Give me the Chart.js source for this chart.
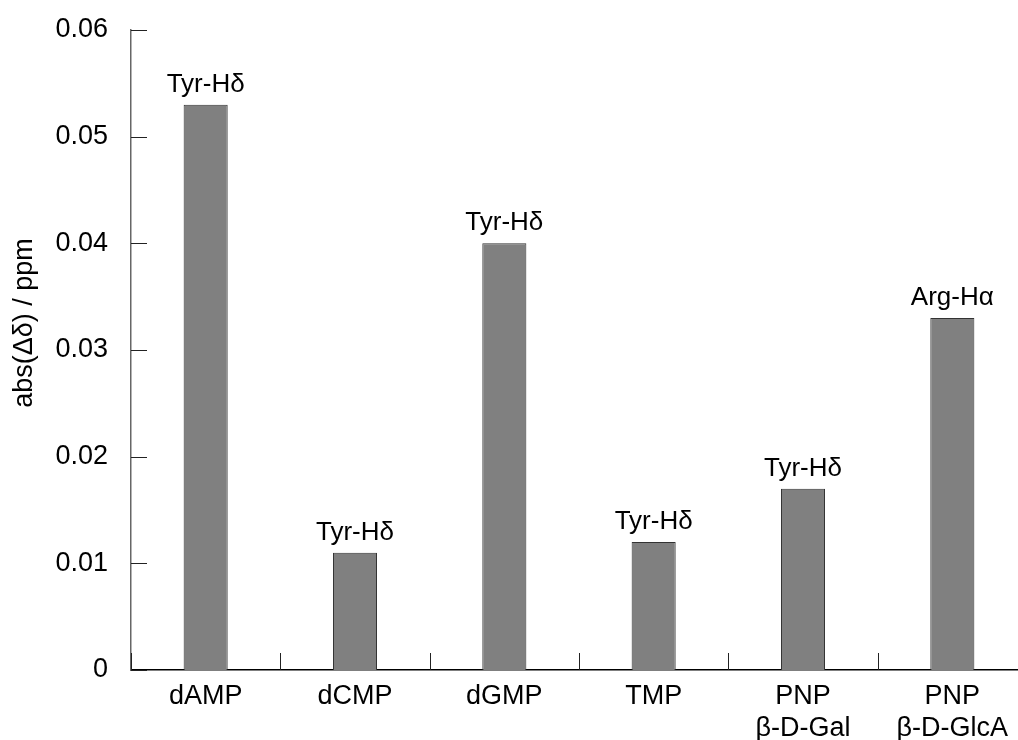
<!DOCTYPE html>
<html>
<head>
<meta charset="utf-8">
<script src="https://cdn.jsdelivr.net/npm/chart.js@4"></script>
<style>
  html, body { margin: 0; padding: 0; background: #fff; overflow: hidden; }
  #wrap { width: 1040px; height: 740px; }
</style>
</head>
<body>
<div id="wrap"><canvas id="chart" width="1040" height="740"></canvas></div>
<script>
const categories = ["dAMP", "dCMP", "dGMP", "TMP", ["PNP", "β-D-Gal"], ["PNP", "β-D-GlcA"]];
const shifts = [0.053, 0.011, 0.040, 0.012, 0.017, 0.033];
const peakLabels = ["Tyr-Hδ", "Tyr-Hδ", "Tyr-Hδ", "Tyr-Hδ", "Tyr-Hδ", "Arg-Hα"];
const yTicks = [0, 0.01, 0.02, 0.03, 0.04, 0.05, 0.06];
const yTitle = "abs(Δδ) / ppm";

const FONT = '"Liberation Sans", Arial, sans-serif';

// ticks point into the plot, like the original
const innerTicks = {
  id: "innerTicks",
  afterDraw(chart) {
    const { ctx, chartArea, scales } = chart;
    ctx.save();
    ctx.strokeStyle = "#222";
    ctx.lineWidth = 1;
    yTicks.forEach((v) => {
      const y = Math.round(scales.y.getPixelForValue(v)) + 0.5;
      ctx.beginPath();
      ctx.moveTo(chartArea.left, y);
      ctx.lineTo(chartArea.left + 16, y);
      ctx.stroke();
    });
    const w = (chartArea.right - chartArea.left) / categories.length;
    for (let i = 0; i <= categories.length; i++) {
      const x = Math.round(chartArea.left + i * w) + 0.5;
      ctx.beginPath();
      ctx.moveTo(x, chartArea.bottom);
      ctx.lineTo(x, chartArea.bottom - 17);
      ctx.stroke();
    }
    ctx.restore();
  }
};

const barLabels = {
  id: "barLabels",
  afterDatasetsDraw(chart) {
    const { ctx } = chart;
    ctx.save();
    ctx.font = "26px " + FONT;
    ctx.fillStyle = "#000";
    ctx.textAlign = "center";
    ctx.textBaseline = "alphabetic";
    chart.getDatasetMeta(0).data.forEach((bar, i) => {
      ctx.fillText(peakLabels[i], bar.x, bar.y - 13);
    });
    ctx.restore();
  }
};

const axisTitle = {
  id: "axisTitle",
  afterDraw(chart) {
    const { ctx, chartArea } = chart;
    ctx.save();
    ctx.translate(25, (chartArea.top + chartArea.bottom) / 2 - 27);
    ctx.rotate(-Math.PI / 2);
    ctx.font = "27px " + FONT;
    ctx.fillStyle = "#000";
    ctx.textAlign = "center";
    ctx.textBaseline = "middle";
    ctx.fillText(yTitle, 0, 0);
    ctx.restore();
  }
};

new Chart(document.getElementById("chart"), {
  type: "bar",
  data: {
    labels: categories,
    datasets: [{
      data: shifts,
      backgroundColor: "#808080",
      borderColor: "#333",
      borderWidth: 1,
      borderSkipped: "bottom",
      categoryPercentage: 1,
      barPercentage: 0.295
    }]
  },
  options: {
    responsive: false,
    animation: false,
    devicePixelRatio: 1,
    layout: { padding: { top: 30, right: 13, left: 0, bottom: 0 } },
    plugins: { legend: { display: false }, tooltip: { enabled: false } },
    scales: {
      x: {
        afterFit: (s) => { s.height = 70; },
        grid: { display: false },
        border: { display: true, color: "#000", width: 1.5 },
        ticks: { color: "#000", font: { family: FONT, size: 27, lineHeight: 1.18 }, padding: 3, maxRotation: 0, autoSkip: false }
      },
      y: {
        min: 0,
        max: 0.06,
        afterFit: (s) => { s.width = 131; s.paddingTop = 0; s.paddingBottom = 0; },
        afterBuildTicks: (s) => { s.ticks = yTicks.map((v) => ({ value: v })); },
        grid: { display: false },
        border: { display: true, color: "#666", width: 1.5 },
        ticks: {
          color: "#000",
          font: { family: FONT, size: 27 },
          padding: 15,
          callback: (v) => (v === 0 ? "0" : v.toFixed(2))
        }
      }
    }
  },
  plugins: [innerTicks, barLabels, axisTitle]
});
</script>
</body>
</html>
